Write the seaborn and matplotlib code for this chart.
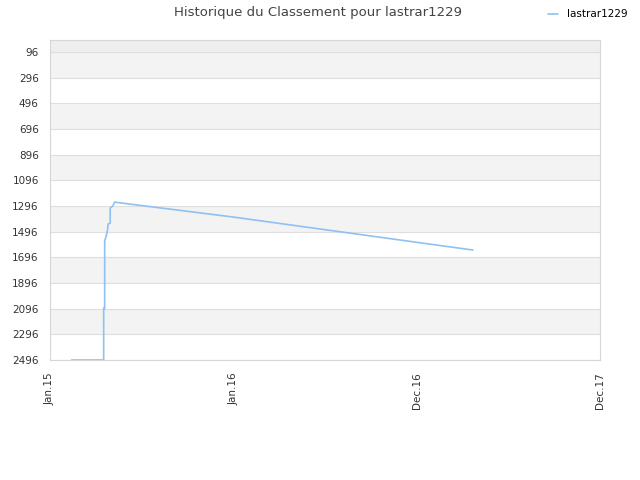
import numpy as np
import pandas as pd
import matplotlib
matplotlib.use("Agg")
import matplotlib.pyplot as plt
import matplotlib.dates as mdates
import seaborn as sns

# ===========================================================
# Données
# ===========================================================

dates = [
    "2015-02-13", "2015-04-18", "2015-04-18", "2015-04-20", "2015-04-20",
    "2015-04-23", "2015-04-25", "2015-04-27", "2015-05-01", "2015-05-01",
    "2015-05-06", "2015-05-10", "2015-05-16", "2016-01-01", "2017-04-22",
]
classement = [
    2496, 2496, 2091, 2096, 1569,
    1530, 1499, 1436, 1430, 1312,
    1296, 1265, 1269, 1382, 1639,
]

y_ticks = [96, 296, 496, 696, 896, 1096, 1296, 1496, 1696, 1896, 2096, 2296, 2496]
x_ticks = ["2015-01-01", "2016-01-01", "2016-12-31", "2017-12-31"]
x_labels = ["Jan.15", "Jan.16", "Dec.16", "Dec.17"]

df = pd.DataFrame({"date": pd.to_datetime(dates), "rang": classement})

# ===========================================================
# Figure
# ===========================================================

sns.set_style("white")
plt.rcParams["font.family"] = ["DejaVu Sans"]

fig = plt.figure(figsize=(6.4, 4.8), dpi=100)
ax = fig.add_axes([0.078, 0.25, 0.8595, 0.6667])

# bandes alternées
ax.axhspan(0, y_ticks[0], color="#eeeeee", zorder=0, lw=0)
for i in range(len(y_ticks) - 1):
    if i % 2 == 0:
        ax.axhspan(y_ticks[i], y_ticks[i + 1], color="#f3f3f3", zorder=0, lw=0)

sns.lineplot(
    data=df, x="date", y="rang", ax=ax,
    estimator=None, sort=False,
    color="#8fc1f2", linewidth=1.2, label="lastrar1229",
)

ax.set_ylim(2496, 2)
ax.set_yticks(y_ticks)
ax.set_yticklabels([str(v) for v in y_ticks], fontsize=7.5, color="#333333")
ax.grid(axis="y", color="#dedede", linewidth=0.8)
ax.set_axisbelow(True)

xt = pd.to_datetime(x_ticks)
ax.set_xlim(xt[0], xt[-1])
ax.set_xticks(xt)
ax.set_xticklabels(x_labels, rotation=90, fontsize=7.5, color="#333333")
ax.tick_params(axis="y", length=0, pad=8)
ax.tick_params(axis="x", length=0, pad=9)

ax.set_xlabel("")
ax.set_ylabel("")
for s in ax.spines.values():
    s.set_color("#d6d6d6")
    s.set_linewidth(0.8)

fig.suptitle("Historique du Classement pour lastrar1229",
             x=0.497, y=0.988, fontsize=9.5, color="#444444")

leg = ax.legend(loc="upper right", bbox_to_anchor=(0.995, 1.0),
                bbox_transform=fig.transFigure, frameon=False,
                fontsize=7.5, handlelength=1.0, handletextpad=0.8)
for t in leg.get_texts():
    t.set_color("#000000")

fig.savefig("out.png", dpi=100)
